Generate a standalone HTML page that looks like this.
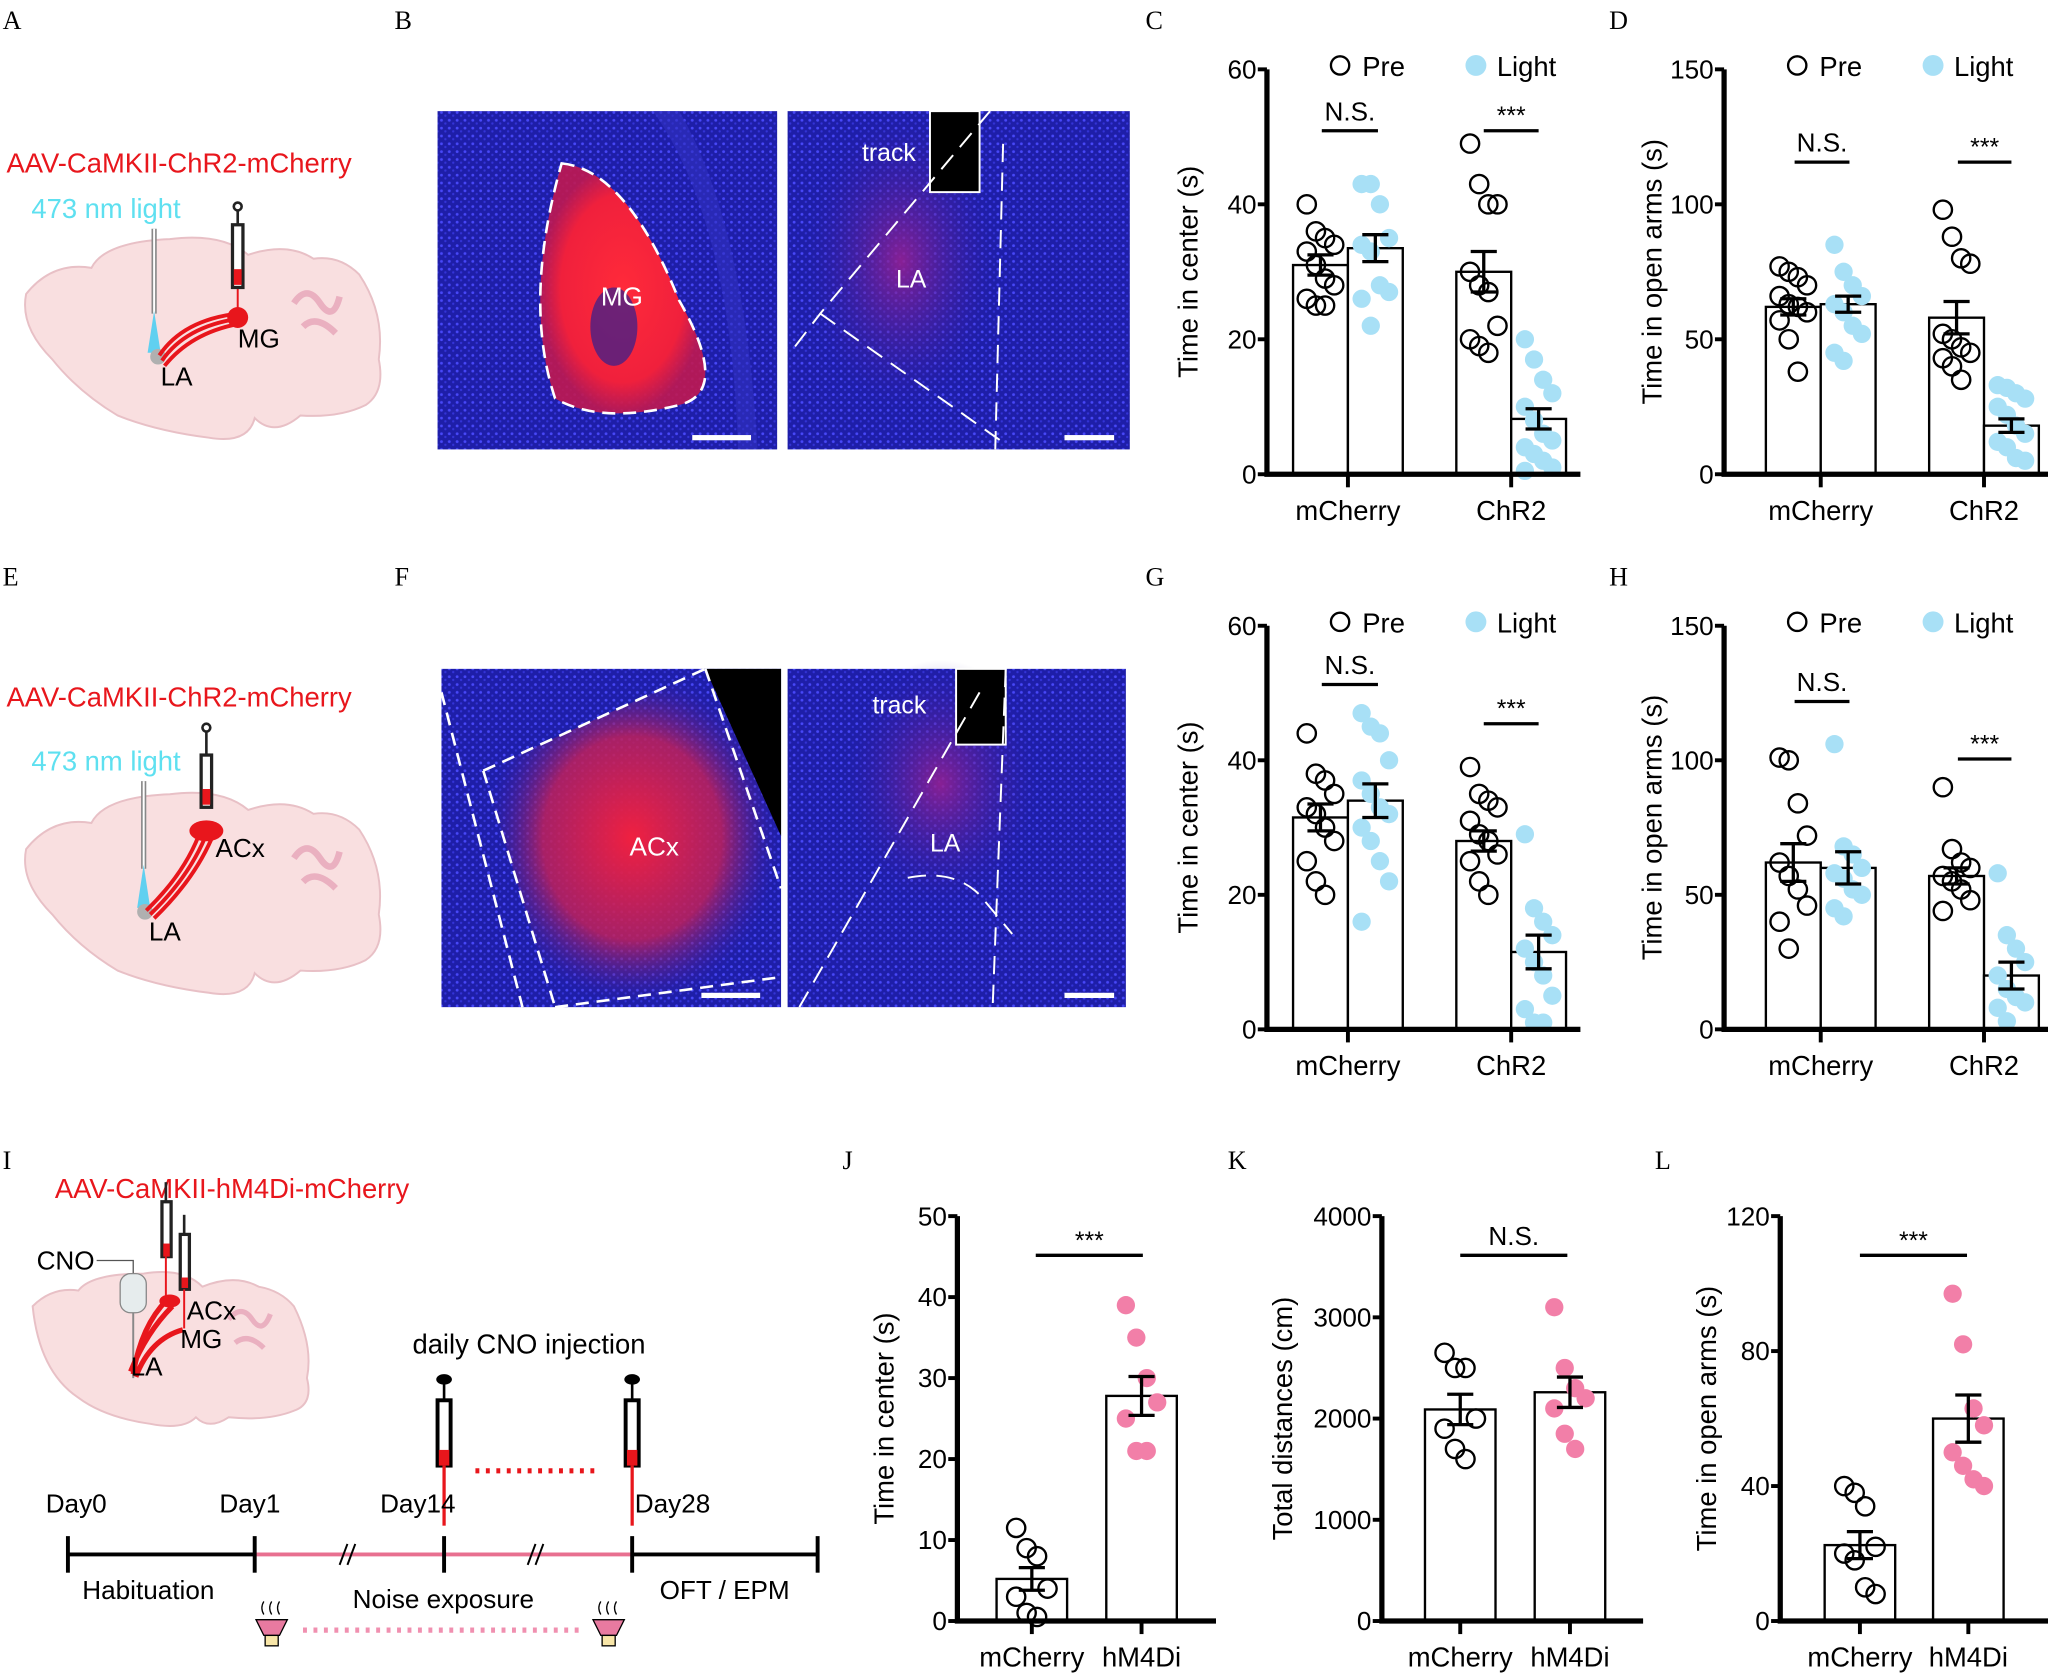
<!DOCTYPE html>
<html><head><meta charset="utf-8"><style>
html,body{margin:0;padding:0;background:#fff}
svg{display:block}
text{font-family:"Liberation Sans",sans-serif}
.serif{font-family:"Liberation Serif",serif}
</style></head><body>
<svg id="fig" width="2048" height="1676" viewBox="0 0 1568 1283" xmlns="http://www.w3.org/2000/svg">
<defs>
<radialGradient id="rg1" cx="0.5" cy="0.5" r="0.5"><stop offset="0" stop-color="#ff2a3a"/><stop offset="0.75" stop-color="#f0203c"/><stop offset="1" stop-color="#c01850" stop-opacity="0.9"/></radialGradient>
<radialGradient id="rg2" cx="0.5" cy="0.5" r="0.5"><stop offset="0" stop-color="#f02040"/><stop offset="0.6" stop-color="#c0205a" stop-opacity="0.85"/><stop offset="1" stop-color="#3020a0" stop-opacity="0"/></radialGradient>
<radialGradient id="rg3" cx="0.5" cy="0.5" r="0.5"><stop offset="0" stop-color="#9a2090" stop-opacity="0.85"/><stop offset="1" stop-color="#3020a0" stop-opacity="0"/></radialGradient>
<pattern id="dots" width="6" height="6" patternUnits="userSpaceOnUse"><rect width="6" height="6" fill="#1e1ea8"/><circle cx="2" cy="2" r="1.1" fill="#4848f8"/><circle cx="5" cy="4.5" r="0.9" fill="#3434d8"/></pattern>
</defs>
<g id="panels-text" font-size="20">
<text class="serif" x="2" y="22">A</text>
<text class="serif" x="302" y="22">B</text>
<text class="serif" x="877" y="22">C</text>
<text class="serif" x="1232" y="22">D</text>
<text class="serif" x="2" y="448">E</text>
<text class="serif" x="302" y="448">F</text>
<text class="serif" x="877" y="448">G</text>
<text class="serif" x="1232" y="448">H</text>
<text class="serif" x="2" y="895">I</text>
<text class="serif" x="645" y="895">J</text>
<text class="serif" x="940" y="895">K</text>
<text class="serif" x="1267" y="895">L</text>
</g>

<g>
<path d="M20,225 Q40,200 70,205 Q80,185 130,183 Q170,178 190,195 Q220,185 240,198 Q260,195 275,210 Q295,240 290,275 Q295,300 280,310 Q260,320 230,318 Q210,335 195,320 Q190,340 160,335 Q120,330 90,318 Q60,300 40,275 Q15,250 20,225Z" fill="#f9dfe0" stroke="#e8c0c6" stroke-width="1.5"/>
<path d="M225,232 q10,-15 20,0 q10,15 15,-5 M232,250 q10,-10 25,5" stroke="#eab0c0" stroke-width="5" fill="none"/>
<text x="5" y="132" font-size="21" fill="#e8161c">AAV-CaMKII-ChR2-mCherry</text>
<text x="24" y="167" font-size="21" fill="#5ee0f0">473 nm light</text>
<line x1="118" y1="175" x2="118" y2="240" stroke="#888" stroke-width="4"/><line x1="118" y1="175" x2="118" y2="240" stroke="#fff" stroke-width="1.5"/>
<path d="M113,270 L118,238 L123,270Z" fill="#60d0f0"/>
<circle cx="121" cy="273" r="6" fill="#b0b0b0"/>
<path d="M122,272 Q140,245 182,240 M124,276 Q142,250 182,244 M126,280 Q146,255 182,248" stroke="#e8161c" stroke-width="3" fill="none"/>
<circle cx="182" cy="243" r="8" fill="#e8161c"/>
<line x1="182" y1="160" x2="182" y2="236" stroke="#e8161c" stroke-width="1.5"/>
<rect x="178" y="172" width="8" height="48" fill="#fff" stroke="#222" stroke-width="2.5"/><rect x="179" y="206" width="6" height="12" fill="#e8161c"/>
<line x1="182" y1="158" x2="182" y2="172" stroke="#222" stroke-width="2"/><circle cx="182" cy="158" r="3" fill="#fff" stroke="#222" stroke-width="2"/>
<text x="182" y="266" font-size="20">MG</text><text x="123" y="295" font-size="20">LA</text>
</g>
<g>
<path d="M20,650 Q40,625 70,630 Q80,610 130,608 Q170,603 190,620 Q220,610 240,623 Q260,620 275,635 Q295,665 290,700 Q295,725 280,735 Q260,745 230,743 Q210,760 195,745 Q190,765 160,760 Q120,755 90,743 Q60,725 40,700 Q15,675 20,650Z" fill="#f9dfe0" stroke="#e8c0c6" stroke-width="1.5"/>
<path d="M225,657 q10,-15 20,0 q10,15 15,-5 M232,675 q10,-10 25,5" stroke="#eab0c0" stroke-width="5" fill="none"/>
<text x="5" y="541" font-size="21" fill="#e8161c">AAV-CaMKII-ChR2-mCherry</text>
<text x="24" y="590" font-size="21" fill="#5ee0f0">473 nm light</text>
<line x1="110" y1="598" x2="110" y2="665" stroke="#888" stroke-width="4"/><line x1="110" y1="598" x2="110" y2="665" stroke="#fff" stroke-width="1.5"/>
<path d="M105,695 L110,662 L115,695Z" fill="#60d0f0"/>
<circle cx="111" cy="698" r="6" fill="#b0b0b0"/>
<path d="M112,697 Q140,670 152,640 M115,700 Q144,672 157,641 M118,703 Q148,674 162,642" stroke="#e8161c" stroke-width="3" fill="none"/>
<ellipse cx="158" cy="636" rx="13" ry="8" fill="#e8161c"/>
<rect x="154" y="578" width="8" height="40" fill="#fff" stroke="#222" stroke-width="2.5"/><rect x="155" y="604" width="6" height="12" fill="#e8161c"/>
<line x1="158" y1="560" x2="158" y2="578" stroke="#222" stroke-width="2"/><circle cx="158" cy="557" r="3" fill="#fff" stroke="#222" stroke-width="2"/>
<text x="165" y="656" font-size="20">ACx</text><text x="114" y="720" font-size="20">LA</text>
</g>

<g>
<rect x="335" y="85" width="260" height="259" fill="url(#dots)"/>
<path d="M500,85 Q560,170 565,344 L580,344 Q570,170 520,85Z" fill="#3030c0" opacity="0.6"/>
<path d="M430,125 Q480,130 520,230 Q560,300 520,310 Q460,325 425,305 Q400,230 430,125Z" fill="url(#rg1)"/>
<ellipse cx="470" cy="250" rx="18" ry="30" fill="#302090" opacity="0.7"/>
<path d="M430,125 Q480,130 520,230 Q560,300 520,310 Q460,325 425,305 Q400,230 430,125Z" fill="none" stroke="#fff" stroke-width="2" stroke-dasharray="10,6"/>
<text x="460" y="234" font-size="20" fill="#fff">MG</text>
<rect x="530" y="333" width="45" height="4" fill="#fff"/>
</g>
<g>
<rect x="603" y="85" width="262" height="259" fill="url(#dots)"/>
<ellipse cx="690" cy="200" rx="75" ry="115" fill="url(#rg3)"/>
<rect x="712" y="85" width="38" height="62" fill="#000" stroke="#fff" stroke-width="1.5"/>
<text x="660" y="123" font-size="19" fill="#fff">track</text>
<text x="686" y="220" font-size="19" fill="#fff">LA</text>
<path d="M758,85 L628,240 L605,270 M768,110 L762,344 M628,240 L770,340" stroke="#fff" stroke-width="1.5" stroke-dasharray="14,8" fill="none"/>
<rect x="815" y="333" width="38" height="4" fill="#fff"/>
</g>
<g>
<rect x="338" y="512" width="260" height="259" fill="url(#dots)"/>
<path d="M540,512 L598,512 L598,640 Z" fill="#000"/>
<path d="M370,590 L540,512 L598,640 L598,755 L425,771 Z" fill="url(#rg2)"/>
<path d="M370,590 L540,512 M540,512 L598,680 M425,771 L598,748 M370,590 L425,771 M338,530 L400,771" stroke="#fff" stroke-width="2" stroke-dasharray="10,6" fill="none"/>
<text x="482" y="655" font-size="20" fill="#fff">ACx</text>
<rect x="537" y="760" width="45" height="4" fill="#fff"/>
</g>
<g>
<rect x="603" y="512" width="259" height="259" fill="url(#dots)"/>
<ellipse cx="720" cy="600" rx="75" ry="95" fill="url(#rg3)"/>
<rect x="732" y="512" width="38" height="58" fill="#000" stroke="#fff" stroke-width="1.5"/>
<text x="668" y="546" font-size="19" fill="#fff">track</text>
<text x="712" y="652" font-size="19" fill="#fff">LA</text>
<path d="M750,530 L612,771 M770,512 L760,771 M695,672 Q730,665 750,685 L775,715" stroke="#fff" stroke-width="1.5" stroke-dasharray="14,8" fill="none"/>
<rect x="815" y="760" width="38" height="4" fill="#fff"/>
</g>

<g>
<path d="M25,1000 Q40,985 60,988 Q70,975 110,975 Q140,970 155,985 Q180,975 198,985 Q215,988 225,1000 Q240,1030 235,1055 Q240,1075 225,1080 Q205,1088 175,1085 Q160,1095 150,1085 Q140,1095 115,1090 Q80,1085 60,1070 Q30,1050 25,1000Z" fill="#f9dfe0" stroke="#e8c0c6" stroke-width="1.5"/>
<path d="M175,1010 q10,-12 18,0 q8,12 14,-4 M180,1028 q10,-8 22,4" stroke="#eab0c0" stroke-width="4" fill="none"/>
<text x="42" y="917" font-size="21" fill="#e8161c">AAV-CaMKII-hM4Di-mCherry</text>
<text x="28" y="972" font-size="20">CNO</text>
<path d="M74,965 L102,965 L102,975" stroke="#555" stroke-width="1" fill="none"/>
<rect x="92" y="975" width="20" height="30" rx="8" fill="#e6eced" stroke="#888" stroke-width="1"/>
<line x1="102" y1="1005" x2="102" y2="1055" stroke="#888" stroke-width="1.5"/>
<path d="M102,1052 Q108,1015 128,995 M104,1054 Q115,1025 140,1018 M100,1050 Q112,1020 132,1000" stroke="#e8161c" stroke-width="4" fill="none"/>
<ellipse cx="130" cy="996" rx="8" ry="5" fill="#e8161c"/>
<rect x="124" y="920" width="7" height="42" fill="#fff" stroke="#222" stroke-width="2.5"/><rect x="125" y="952" width="5" height="10" fill="#e8161c"/>
<rect x="138" y="945" width="7" height="42" fill="#fff" stroke="#222" stroke-width="2.5"/><rect x="139" y="978" width="5" height="8" fill="#e8161c"/>
<line x1="127" y1="962" x2="127" y2="995" stroke="#e8161c" stroke-width="1.5"/>
<line x1="141" y1="987" x2="141" y2="1017" stroke="#e8161c" stroke-width="1.5"/>
<line x1="127" y1="905" x2="127" y2="920" stroke="#222" stroke-width="2"/><line x1="141" y1="930" x2="141" y2="945" stroke="#222" stroke-width="2"/>
<text x="143" y="1010" font-size="20">ACx</text><text x="138" y="1032" font-size="20">MG</text><text x="100" y="1053" font-size="20">LA</text>
</g>
<g>
<text x="405" y="1036" font-size="21" text-anchor="middle">daily CNO injection</text>
<g><ellipse cx="340" cy="1056" rx="6" ry="4"/><line x1="340" y1="1058" x2="340" y2="1072" stroke="#000" stroke-width="2"/><rect x="335" y="1072" width="10" height="50" fill="#fff" stroke="#000" stroke-width="3"/><rect x="336" y="1110" width="8" height="12" fill="#e8161c"/><line x1="340" y1="1122" x2="340" y2="1168" stroke="#e8161c" stroke-width="2.5"/></g>
<g><ellipse cx="484" cy="1056" rx="6" ry="4"/><line x1="484" y1="1058" x2="484" y2="1072" stroke="#000" stroke-width="2"/><rect x="479" y="1072" width="10" height="50" fill="#fff" stroke="#000" stroke-width="3"/><rect x="480" y="1110" width="8" height="12" fill="#e8161c"/><line x1="484" y1="1122" x2="484" y2="1168" stroke="#e8161c" stroke-width="2.5"/></g>
<line x1="364" y1="1126" x2="460" y2="1126" stroke="#e8161c" stroke-width="4" stroke-dasharray="3,5"/>
<line x1="52" y1="1190" x2="195" y2="1190" stroke="#000" stroke-width="3"/>
<line x1="195" y1="1190" x2="484" y2="1190" stroke="#e87090" stroke-width="3"/>
<line x1="484" y1="1190" x2="626" y2="1190" stroke="#000" stroke-width="3"/>
<g stroke="#000" stroke-width="3"><line x1="52" y1="1176" x2="52" y2="1204"/><line x1="195" y1="1176" x2="195" y2="1204"/><line x1="340" y1="1176" x2="340" y2="1204"/><line x1="484" y1="1176" x2="484" y2="1204"/><line x1="626" y1="1176" x2="626" y2="1204"/></g>
<g stroke="#000" stroke-width="1.5"><line x1="260" y1="1198" x2="266" y2="1182"/><line x1="266" y1="1198" x2="272" y2="1182"/><line x1="404" y1="1198" x2="410" y2="1182"/><line x1="410" y1="1198" x2="416" y2="1182"/></g>
<g font-size="20"><text x="35" y="1158">Day0</text><text x="168" y="1158">Day1</text><text x="291" y="1158">Day14</text><text x="486" y="1158">Day28</text>
<text x="63" y="1224">Habituation</text><text x="270" y="1231">Noise exposure</text><text x="505" y="1224">OFT / EPM</text></g>
<g><path d="M196,1240 L220,1240 L214,1252 L202,1252Z" fill="#e87aa0" stroke="#000"/><rect x="203" y="1252" width="10" height="8" fill="#f8e6a8" stroke="#000"/><path d="M202,1236 q-3,-5 0,-10 M208,1236 q-3,-5 0,-10 M214,1236 q-3,-5 0,-10" stroke="#000" fill="none"/></g>
<g><path d="M454,1240 L478,1240 L472,1252 L460,1252Z" fill="#e87aa0" stroke="#000"/><rect x="461" y="1252" width="10" height="8" fill="#f8e6a8" stroke="#000"/><path d="M460,1236 q-3,-5 0,-10 M466,1236 q-3,-5 0,-10 M472,1236 q-3,-5 0,-10" stroke="#000" fill="none"/></g>
<line x1="232" y1="1248" x2="448" y2="1248" stroke="#f090b0" stroke-width="4" stroke-dasharray="3,5"/>
</g>
<g id="charts"></g>
</svg>
<script>
const groupsChR2 = ["mCherry","ChR2"];
const groupsHM = ["mCherry","hM4Di"];
const cMeans=[31,33.5,30,8.2], cSems=[1.5,2,3,1.5];
const cPreMC=[40,36,35,34,33,31,29,28,26,25,25], cLightMC=[43,43,40,35,34,33,28,27,26,22];
const cPreCh=[49,43,40,40,30,28,27,22,20,19,18], cLightCh=[20,17,14,12,10,8,6,5,4,3,2,1,0.5];
const dMeans=[62,63,58,18], dSems=[3,3,6,2.5];
const dPreMC=[77,75,73,70,66,63,62,60,57,50,38], dLightMC=[85,75,70,66,63,60,55,52,45,42];
const dPreCh=[98,88,80,78,52,50,47,45,43,40,35], dLightCh=[33,32,30,28,25,22,18,15,12,10,6,5];
const gMeans=[31.5,34,28,11.5], gSems=[2,2.5,1.5,2.5];
const gPreMC=[44,38,37,35,33,32,30,28,25,22,20], gLightMC=[47,45,44,40,37,35,33,32,30,28,25,22,16];
const gPreCh=[39,35,34,33,31,29,28,26,25,22,20], gLightCh=[29,18,16,14,12,10,8,5,3,1,1];
const hMeans=[62,60,57,20], hSems=[7,6,3,5];
const hPreMC=[101,100,84,72,62,57,52,46,40,30], hLightMC=[106,68,65,60,58,56,52,50,45,42];
const hPreCh=[90,67,62,60,57,55,52,48,44], hLightCh=[58,35,30,25,20,15,12,10,8,3];
const jMeans=[5.2,27.8], jSems=[1.4,2.4], jMC=[11.5,9,8,4,3,1,0.5], jHM=[39,35,30,27,25,21,21];
const kMeans=[2090,2260], kSems=[150,150], kMC=[2650,2500,2500,2000,1900,1700,1600], kHM=[3100,2500,2300,2200,2100,1850,1700];
const lMeans=[22.5,60], lSems=[4,7], lMC=[40,38,34,22,20,18,10,8], lHM=[97,82,63,58,50,46,42,40];
const ticks60=[0,20,40,60], ticks150=[0,50,100,150], ticks50=[0,10,20,30,40,50], ticks4000=[0,1000,2000,3000,4000], ticks120=[0,40,80,120];
const sigC=["N.S.","***"], sigD=["N.S.","***"], sigG=["N.S.","***"], sigH=["N.S.","***"], sigJ=["***"], sigK=["N.S."], sigL=["***"];

const NS="http://www.w3.org/2000/svg";
const root=document.getElementById('charts');
function mk(tag,attrs,parent){const e=document.createElementNS(NS,tag);for(const k in attrs)e.setAttribute(k,attrs[k]);(parent||root).appendChild(e);return e;}

function chart(c){
  const g=mk('g',{});
  
  
  const y=v=>c.y0-(v/c.max)*(c.y0-c.yTop);
  c.bars.forEach((b,i)=>{
    const r=mk('rect',{x:b.cx-c.bw/2,y:y(c.means[i]),width:c.bw,height:c.y0-y(c.means[i]),fill:'#fff',stroke:'#000','stroke-width':1.8},g);
    
    
  });
  c.bars.forEach((b,i)=>{
    c.points[i].forEach((v,j)=>{
      const off=((j%4)-1.5)*c.jit;
      const p=mk('circle',{cx:b.cx+off,cy:y(v),r:7,fill:b.filled?b.color:'none',stroke:b.filled?'none':'#000','stroke-width':1.8},g);
      
      
    });
  });
  c.bars.forEach((b,i)=>{
    const m=c.means[i],s=c.sems[i];
    const e=mk('path',{d:`M${b.cx},${y(m+s)}V${y(m-s)}M${b.cx-10},${y(m+s)}H${b.cx+10}M${b.cx-10},${y(m-s)}H${b.cx+10}`,stroke:'#000','stroke-width':2.5,fill:'none'},g);
    
    
  });
  const ax=mk('path',{d:`M${c.ax},${c.yTop}V${c.y0}H${c.xEnd}`,stroke:'#000','stroke-width':4,fill:'none'},g);
  
  
  c.ticks.forEach(t=>{
    mk('line',{x1:c.ax-7,x2:c.ax,y1:y(t),y2:y(t),stroke:'#000','stroke-width':3},g);
    const tl=mk('text',{x:c.ax-8,y:y(t)+7,'text-anchor':'end','font-size':20},g);
    tl.textContent=t;
    
    
  });
  c.groups.forEach((gname,i)=>{
    const gx=c.gx[i];
    mk('line',{x1:gx,x2:gx,y1:c.y0,y2:c.y0+10,stroke:'#000','stroke-width':3},g);
    const xl=mk('text',{x:gx,y:c.y0+35,'text-anchor':'middle','font-size':21},g);
    xl.textContent=gname;
    
    
  });
  const yt=mk('text',{transform:`translate(${c.labX},${(c.y0+c.yTop)/2}) rotate(-90)`,'text-anchor':'middle','font-size':21},g);
  yt.textContent=c.ylabel;
  
  
  c.sig.forEach((s,i)=>{
    const sb=c.sigPos[i];
    mk('line',{x1:sb.x1,x2:sb.x2,y1:sb.y,y2:sb.y,stroke:'#000','stroke-width':2.5},g);
    const st=mk('text',{x:(sb.x1+sb.x2)/2,y:sb.y-(s==='***'?5:8),'text-anchor':'middle','font-size':s==='***'?19:20},g);
    st.textContent=s;
    
    
  });
  if(c.legend){
    const lg=mk('g',{},g);
    
    
    mk('circle',{cx:c.ax+56,cy:c.yTop-3,r:7,fill:'none',stroke:'#000','stroke-width':1.8},lg);
    const t1=mk('text',{x:c.ax+73,y:c.yTop+5,'font-size':21},lg);t1.textContent='Pre';
    mk('circle',{cx:c.ax+160,cy:c.yTop-3,r:8,fill:'#a8e0f6'},lg);
    const t2=mk('text',{x:c.ax+176,y:c.yTop+5,'font-size':21},lg);t2.textContent='Light';
  }
}
const BLUE='#a8e0f6', PINK='#f27fa8';
function four(name,ax,y0,yTop,max,xEnd,means,sems,pts,ticks,ylabel,labX,sig,sigPos,gx){
  chart({name,ax,y0,yTop,max,xEnd,means,sems,points:pts,ticks,ylabel,labX,sig,sigPos,bw:42,jit:7,legend:true,groups:groupsChR2,gx,
    bars:[{id:'mcherry-pre',cx:gx[0]-21,filled:false},{id:'mcherry-light',cx:gx[0]+21,filled:true,color:BLUE},{id:'chr2-pre',cx:gx[1]-21,filled:false},{id:'chr2-light',cx:gx[1]+21,filled:true,color:BLUE}]});
}
four('chart-c',970,363,53,60,1210,cMeans,cSems,[cPreMC,cLightMC,cPreCh,cLightCh],ticks60,'Time in center (s)',917,sigC,[{x1:1012,x2:1055,y:100},{x1:1136,x2:1178,y:100}],[1032,1157]);
four('chart-d',1320,363,53,150,1568,dMeans,dSems,[dPreMC,dLightMC,dPreCh,dLightCh],ticks150,'Time in open arms (s)',1272,sigD,[{x1:1374,x2:1416,y:124},{x1:1499,x2:1540,y:124}],[1394,1519]);
four('chart-g',970,788,479,60,1210,gMeans,gSems,[gPreMC,gLightMC,gPreCh,gLightCh],ticks60,'Time in center (s)',917,sigG,[{x1:1012,x2:1055,y:524},{x1:1136,x2:1178,y:554}],[1032,1157]);
four('chart-h',1320,788,479,150,1568,hMeans,hSems,[hPreMC,hLightMC,hPreCh,hLightCh],ticks150,'Time in open arms (s)',1272,sigH,[{x1:1374,x2:1416,y:537},{x1:1499,x2:1540,y:581}],[1394,1519]);
function two(name,ax,gx,xEnd,max,means,sems,pts,ticks,ylabel,labX,sig,sigPos){
  chart({name,ax,y0:1241,yTop:931,max,xEnd,means,sems,points:pts,ticks,ylabel,labX,sig,sigPos,bw:54,jit:8,legend:false,groups:groupsHM,gx,
    bars:[{id:'mcherry',cx:gx[0],filled:false},{id:'hm4di',cx:gx[1],filled:true,color:PINK}]});
}
two('chart-j',733,[790,874],931,50,jMeans,jSems,[jMC,jHM],ticks50,'Time in center (s)',684,sigJ,[{x1:793,x2:875,y:961}]);
two('chart-k',1058,[1118,1202],1258,4000,kMeans,kSems,[kMC,kHM],ticks4000,'Total distances (cm)',989,sigK,[{x1:1118,x2:1200,y:961}]);
two('chart-l',1363,[1424,1507],1568,120,lMeans,lSems,[lMC,lHM],ticks120,'Time in open arms (s)',1314,sigL,[{x1:1424,x2:1506,y:961}]);
</script>
</body></html>
